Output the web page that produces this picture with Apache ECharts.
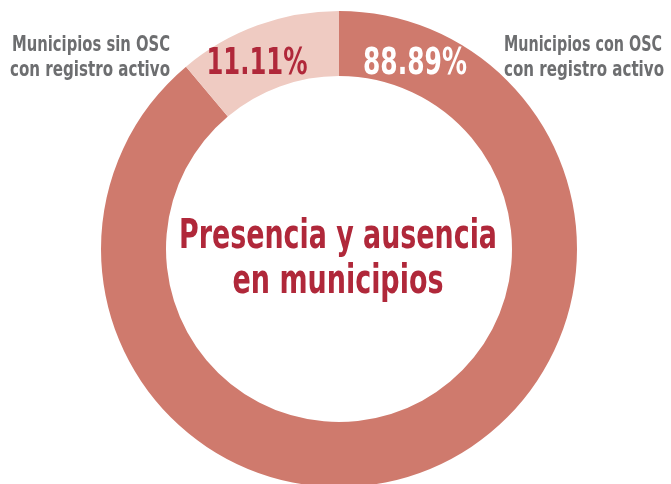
<!DOCTYPE html>
<html>
<head>
<meta charset="utf-8">
<script src="https://cdn.jsdelivr.net/npm/echarts@6/dist/echarts.min.js"></script>
<style>
  html, body { margin: 0; padding: 0; background: #ffffff; }
  #chart { width: 671px; height: 484px; }
</style>
</head>
<body>
<div id="chart"></div>
<script>
// Municipalities with / without an active CSO registry (percent)
const categories = ['Municipios con OSC\ncon registro activo', 'Municipios sin OSC\ncon registro activo'];
const shares = [88.89, 11.11];
const sliceColors = ['#CF7A6D', '#EFCBC2'];
const valueColors = ['#FFFFFF', '#B0283A'];
const centerTitle = 'Presencia y ausencia\nen municipios';

const FONT = "'DejaVu Sans Condensed', 'Liberation Sans Narrow', sans-serif";
const GRAY = '#6D6E70';
const RED = '#B0283A';

const chart = echarts.init(document.getElementById('chart'), null, { renderer: 'canvas' });

// Condensed headline type: measure each line and squeeze it horizontally to its set width
const measureCtx = document.createElement('canvas').getContext('2d');
function squeezedLine(text, size, width, x, y, align, fill) {
  const font = 'bold ' + size + 'px ' + FONT;
  measureCtx.font = font;
  const natural = measureCtx.measureText(text).width;
  return {
    type: 'text',
    x: x,
    y: y,
    z: 100,
    scaleX: Math.min(1, width / natural),
    silent: true,
    style: { text: text, font: font, fill: fill, align: align, verticalAlign: 'middle' }
  };
}

// Multi-line block: each line gets its own width and middle position
function block(text, size, widths, x, ys, align, fill) {
  return text.split('\n').map((line, i) => squeezedLine(line, size, widths[i], x, ys[i], align, fill));
}

const valueText = shares.map(v => v.toFixed(2) + '%');

chart.setOption({
  animation: false,
  backgroundColor: '#ffffff',
  series: [{
    type: 'pie',
    center: [339, 249],
    radius: [173, 238],
    startAngle: 90,
    clockwise: true,
    silent: true,
    z: 1,
    itemStyle: { borderWidth: 0 },
    label: { show: false },
    labelLine: { show: false },
    data: shares.map((v, i) => ({
      name: categories[i],
      value: v,
      itemStyle: { color: sliceColors[i] }
    }))
  }],
  graphic: {
    z: 100,
    elements: [
      // values, inside the ring on either side of the top split
      squeezedLine(valueText[0], 37, 104, 415, 64, 'center', valueColors[0]),
      squeezedLine(valueText[1], 37, 101, 257, 64, 'center', valueColors[1]),
      // slice names
      ...block(categories[0], 21, [158, 160], 504, [46, 71], 'left', GRAY),
      ...block(categories[1], 21, [158, 160], 170, [46, 71], 'right', GRAY),
      // centre title
      ...block(centerTitle, 41, [318, 211], 338, [237, 282], 'center', RED)
    ]
  }
});
</script>
</body>
</html>
